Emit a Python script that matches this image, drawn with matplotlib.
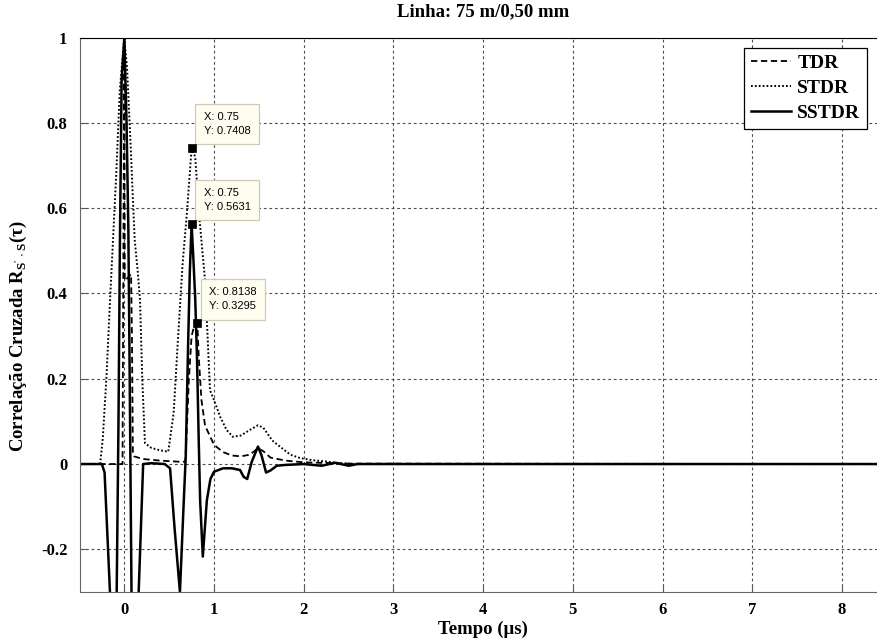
import matplotlib
matplotlib.use('Agg')
import matplotlib.pyplot as plt
from matplotlib.lines import Line2D

# --- data (time in us, normalised correlation) ---
tdr_t = [-0.5, -0.02, -0.01, 0.0, 0.005, 0.03, 0.075, 0.085, 0.095, 0.11, 0.2, 0.4,
         0.65, 0.68, 0.70, 0.72, 0.75, 0.78, 0.8138, 0.83, 0.86, 0.9, 1.0, 1.1,
         1.2, 1.3, 1.4, 1.49, 1.55, 1.63, 1.8, 2.0, 2.5, 8.6]
tdr_r = [0.0, 0.0, 0.5, 1.0, 0.43, 0.435, 0.445, 0.3, 0.03, 0.018, 0.012, 0.008,
         0.005, 0.006, 0.1, 0.2, 0.3, 0.325, 0.3295, 0.25, 0.15, 0.09, 0.045, 0.028,
         0.02, 0.018, 0.022, 0.037, 0.03, 0.015, 0.008, 0.004, 0.001, 0.0]

stdr_t = [-0.27, -0.24, -0.2, -0.16, -0.126, -0.09, -0.05, 0.0, 0.03, 0.07, 0.1,
          0.116, 0.15, 0.175, 0.2, 0.23, 0.3, 0.4, 0.49, 0.55, 0.6, 0.65, 0.7,
          0.75, 0.79, 0.84, 0.9, 0.955, 1.0, 1.07, 1.14, 1.21, 1.3, 1.4, 1.49,
          1.55, 1.65, 1.74, 1.85, 1.96, 2.1, 2.25, 2.4, 2.6]
stdr_r = [0.0, 0.06, 0.2, 0.38, 0.525, 0.68, 0.877, 1.0, 0.93, 0.75, 0.6,
          0.525, 0.45, 0.385, 0.2, 0.049, 0.038, 0.032, 0.029, 0.12, 0.3, 0.47, 0.595,
          0.7408, 0.72, 0.57, 0.43, 0.173, 0.15, 0.11, 0.08, 0.064, 0.067, 0.08, 0.091,
          0.085, 0.055, 0.04, 0.022, 0.014, 0.009, 0.006, 0.002, 0.0]

sstdr_t = [-0.5, -0.25, -0.22, -0.16, -0.12, -0.085, -0.065, -0.05, -0.03, 0.0,
           0.025, 0.045, 0.06, 0.08, 0.12, 0.16, 0.21, 0.3, 0.45, 0.51, 0.56, 0.62,
           0.66, 0.685, 0.71, 0.73, 0.75, 0.77, 0.79, 0.81, 0.83, 0.845, 0.875,
           0.92, 0.96, 1.0, 1.1, 1.2, 1.29, 1.33, 1.37, 1.42, 1.49, 1.53, 1.58,
           1.63, 1.7, 1.8, 2.0, 2.2, 2.35, 2.5, 2.6, 8.6]
sstdr_r = [0.0, 0.0, -0.02, -0.3, -0.55, -0.3, 0.1, 0.5, 0.9, 1.0,
           0.8, 0.55, 0.2, -0.3, -0.5, -0.3, 0.0, 0.002, 0.0, -0.01, -0.15, -0.3,
           -0.1, 0.02, 0.27, 0.45, 0.5631, 0.48, 0.39, 0.25, 0.05, -0.085, -0.217,
           -0.085, -0.035, -0.018, -0.01, -0.01, -0.014, -0.03, -0.035, 0.005, 0.041, 0.02, -0.02,
           -0.015, -0.004, -0.002, 0.0, -0.004, 0.003, -0.004, 0.0, 0.0]

# data cursors: (x, y)
tips = [(0.75, 0.7408), (0.75, 0.5631), (0.8138, 0.3295)]

x_ticks = [0, 1, 2, 3, 4, 5, 6, 7, 8]
y_ticks = [-0.2, 0, 0.2, 0.4, 0.6, 0.8, 1]
y_ticklabels = ['-0.2', '0', '0.2', '0.4', '0.6', '0.8', '1']

serif = 'Liberation Serif'

fig = plt.figure(figsize=(8.77, 6.41), dpi=100)
ax = fig.add_axes([80 / 877, 49 / 641, 797 / 877, 554.5 / 641])

ax.plot(tdr_t, tdr_r, color='black', lw=1.3, dashes=(3.5, 2), label='TDR')
ax.plot(stdr_t, stdr_r, color='black', lw=1.4, dashes=(0.9, 1.1), label='STDR')
ax.plot(sstdr_t, sstdr_r, color='black', lw=1.8, label='SSTDR')

ax.set_xlim(-0.494, 8.39)
ax.set_ylim(-0.3, 1.0)
ax.set_xticks(x_ticks)
ax.set_yticks(y_ticks)
ax.set_yticklabels(y_ticklabels)
ax.grid(True, color='0.3', linestyle=(0, (2.5, 2.5)), lw=0.8)
ax.tick_params(direction='in', length=5, width=0.8, colors='0.35',
               labelcolor='black', labelsize=12, pad=7)
ax.tick_params(axis='y', pad=9)
for lab in ax.get_xticklabels() + ax.get_yticklabels():
    lab.set_fontfamily(serif)
    lab.set_fontweight('bold')

ax.spines['right'].set_visible(False)
ax.spines['top'].set_color('black')
ax.spines['left'].set_color('0.4')
ax.spines['bottom'].set_color('0.4')

# data tips
for tx, ty in tips:
    ax.plot([tx], [ty], marker='s', ms=6, mfc='black', mec='black', mew=0.5,
            ls='none', zorder=8)
    ax.annotate(f'X: {tx:g}\nY: {ty:g}', xy=(tx, ty), xytext=(12, 12),
                textcoords='offset pixels', ha='left', va='bottom',
                fontsize=8, family='Liberation Sans', linespacing=1.5,
                bbox=dict(boxstyle='square,pad=0.75', fc='#FFFDF0', ec='#CFCBB8', lw=0.9),
                zorder=7)

handles = [Line2D([], [], color='black', lw=1.3, dashes=(3.5, 2)),
           Line2D([], [], color='black', lw=1.4, dashes=(0.9, 1.1)),
           Line2D([], [], color='black', lw=1.8)]
leg = ax.legend(handles, ['TDR', 'STDR', 'SSTDR'], loc='upper right',
                bbox_to_anchor=(787 / 797, 1 - 10 / 554.5), borderaxespad=0,
                fancybox=False, framealpha=1, edgecolor='black', handlelength=2.1,
                handletextpad=0.3, borderpad=0.35, labelspacing=0.38,
                prop=dict(family=serif, weight='bold', size=14))
leg.get_frame().set_linewidth(0.9)

fig.text(483 / 877, 1 - 12 / 641, 'Linha: 75 m/0,50 mm', ha='center', va='center',
         family=serif, weight='bold', fontsize=13.5)
fig.text(483 / 877, 1 - 629 / 641, 'Tempo (\u03bcs)', ha='center', va='center',
         family=serif, weight='bold', fontsize=13.5)
fig.text(18 / 877, 1 - 336 / 641,
         'Correla\u00e7\u00e3o Cruzada R$_{\\mathregular{S\'\\cdot S}}$(\u03c4)',
         ha='center', va='center', rotation=90,
         family=serif, weight='bold', fontsize=13.5)

fig.savefig('out.png', dpi=100)
